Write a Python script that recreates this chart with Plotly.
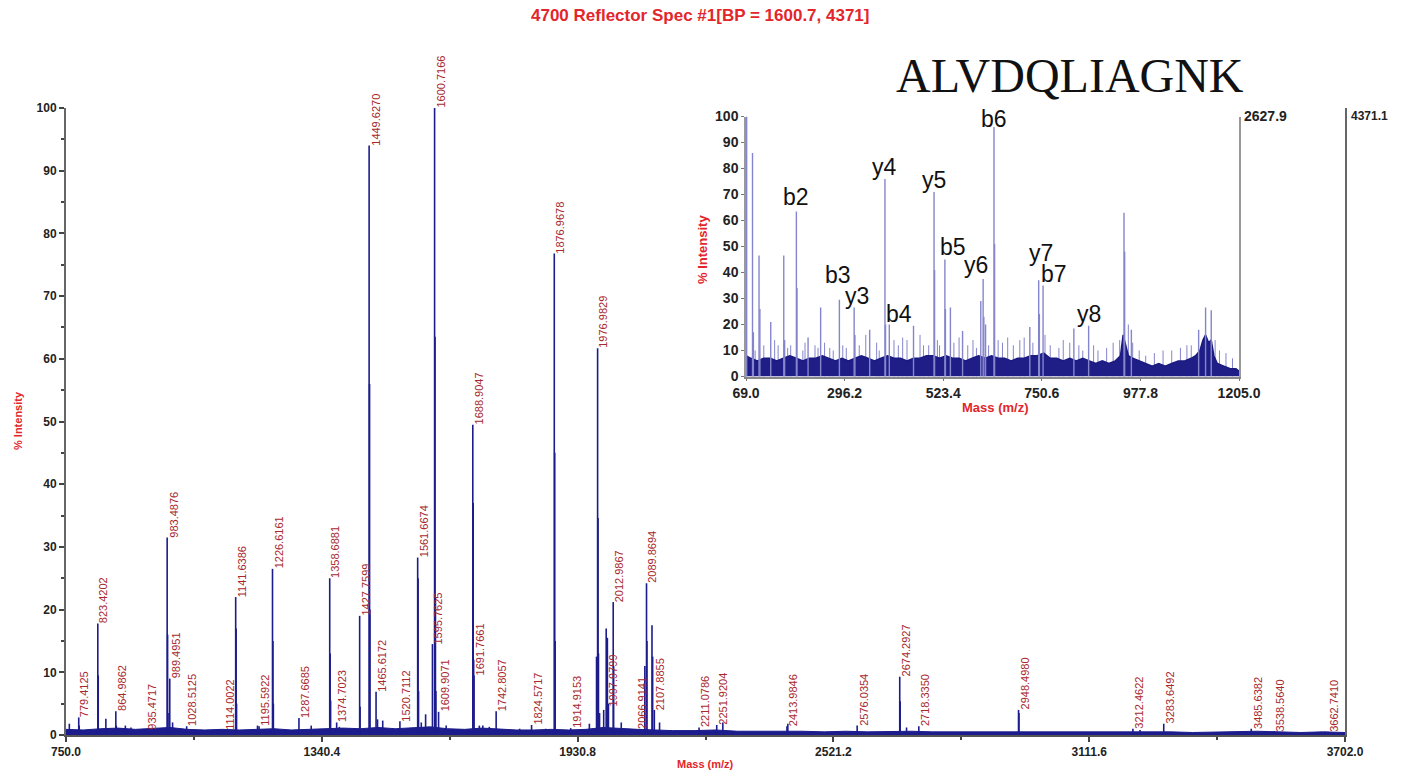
import plotly.graph_objects as go

W, H = 1411, 773

# ---------------- main spectrum data ----------------
label_mz = [779.4125, 823.4202, 864.9862, 935.4717, 983.4876, 989.4951, 1028.5125, 1114.0022,
            1141.6386, 1195.5922, 1226.6161, 1287.6685, 1358.6881, 1374.7023, 1427.7599, 1449.6270,
            1465.6172, 1520.7112, 1561.6674, 1595.7625, 1600.7166, 1609.9071, 1688.9047, 1691.7661,
            1742.8057, 1824.5717, 1876.9678, 1914.9153, 1976.9829, 1997.9799, 2012.9867, 2066.9141,
            2089.8694, 2107.8855, 2211.0786, 2251.9204, 2413.9846, 2576.0354, 2674.2927, 2718.3350,
            2948.4980, 3212.4622, 3283.6492, 3485.6382, 3538.5640, 3662.7410]
label_int = [2.8, 17.8, 3.8, 0.9, 31.5, 9.0, 1.4, 0.8,
             22.0, 1.4, 26.5, 2.7, 25.0, 2.0, 19.0, 94.0,
             6.9, 2.2, 28.3, 14.5, 100.0, 3.7, 49.5, 9.5,
             3.8, 1.6, 76.8, 1.1, 61.7, 4.5, 21.2, 0.9,
             24.2, 4.0, 1.2, 1.6, 1.4, 1.5, 9.3, 1.4,
             4.0, 1.0, 1.8, 1.0, 0.6, 0.5]

minor_mz = [757.7, 780.4, 824.42, 842.0, 865.99, 887.0, 900.0, 984.49, 985.49, 996.0,
            1142.64, 1143.64, 1192.0, 1227.62, 1228.62, 1316.0, 1359.69, 1360.69, 1381.0, 1404.0,
            1428.76, 1450.63, 1451.63, 1469.0, 1481.0, 1562.67, 1563.67, 1570.0, 1580.0, 1601.72,
            1602.72, 1603.72, 1627.5, 1689.9, 1690.9, 1704.0, 1712.0, 1727.0, 1797.0, 1857.0,
            1877.97, 1878.97, 1958.0, 1974.5, 1977.98, 1978.98, 1981.5, 1991.0, 1996.8, 1999.5,
            2002.0, 2013.99, 2031.6, 2086.0, 2090.87, 2102.5, 2104.0, 2120.0, 2266.0, 2416.0,
            2675.3, 2690.0, 2949.5, 3229.0, 3471.0, 3656.0]
minor_int = [1.8, 1.5, 9.5, 2.6, 1.5, 1.5, 1.2, 16.0, 3.5, 2.0,
             17.0, 5.0, 1.5, 15.0, 5.0, 1.5, 13.0, 5.5, 1.3, 1.0,
             4.5, 56.0, 20.0, 2.5, 2.3, 25.0, 7.0, 2.0, 3.3, 63.5,
             22.0, 7.0, 1.5, 37.0, 12.0, 1.5, 1.5, 1.3, 1.0, 1.0,
             45.0, 15.0, 1.8, 12.5, 34.6, 13.0, 3.5, 4.0, 17.0, 15.5,
             5.0, 11.0, 2.0, 11.0, 15.0, 17.5, 12.5, 2.0, 2.0, 1.8,
             5.4, 1.2, 3.5, 0.8, 0.6, 0.5]

base_mz = [750, 790, 830, 870, 910, 950, 990, 1030, 1070, 1110, 1150, 1190, 1230, 1270, 1310,
           1350, 1390, 1430, 1470, 1510, 1550, 1590, 1630, 1670, 1710, 1750, 1790, 1830, 1870,
           1910, 1950, 1990, 2030, 2070, 2110, 2150, 2200, 2250, 2300, 2350, 2400, 2450, 2500,
           2550, 2600, 2650, 2700, 2750, 2800, 2850, 2900, 2950, 3000, 3050, 3100, 3150, 3200,
           3250, 3300, 3350, 3400, 3450, 3500, 3550, 3600, 3650, 3702]
base_int = [0.9, 0.8, 1.0, 1.1, 0.9, 1.0, 1.2, 0.9, 0.8, 0.9, 0.8, 0.9, 1.0, 0.8, 0.9,
            1.0, 1.1, 1.0, 1.2, 1.0, 1.1, 1.3, 1.0, 0.9, 1.1, 0.9, 0.8, 0.8, 0.9,
            0.8, 0.9, 1.2, 1.0, 0.9, 0.8, 0.7, 0.7, 0.8, 0.6, 0.6, 0.7, 0.6, 0.5,
            0.6, 0.5, 0.6, 0.6, 0.5, 0.5, 0.5, 0.6, 0.6, 0.5, 0.5, 0.5, 0.6, 0.6,
            0.5, 0.5, 0.4, 0.5, 0.5, 0.6, 0.5, 0.4, 0.5, 0.4]

main_xticks = [750.0, 1340.4, 1930.8, 2521.2, 3111.6, 3702.0]
main_xminor = [1045.2, 1635.6, 2226.0, 2816.4, 3406.8]
main_yticks = [0, 10, 20, 30, 40, 50, 60, 70, 80, 90, 100]

# ---------------- inset (MS/MS) data ----------------
inset_mz = [70.5, 84.0, 86.0, 99.0, 101.0, 126.0, 156.0, 158.0, 185.1, 186.5,
            212.0, 241.0, 284.2, 318.2, 320.0, 354.0, 389.2, 390.5, 399.2, 455.0,
            502.3, 503.5, 527.3, 528.5, 540.0, 568.0, 610.0, 615.4, 617.0, 621.0,
            640.4, 641.8, 723.0, 743.4, 745.0, 753.5, 824.5, 858.5, 940.0, 941.5,
            957.0, 1112.0, 1128.0, 1141.0]
inset_int = [100, 86, 17, 46.5, 26, 21, 46.5, 14, 63.5, 34,
             15, 26.5, 29.5, 26.5, 16, 18, 76, 20, 20, 19.5,
             71, 41, 45, 26, 26.5, 17.5, 29, 37.5, 23, 20,
             96, 51, 19, 37, 24, 35, 18.5, 19.5, 63, 48,
             18, 18, 26.5, 25.5]

inset_minor_mz = [90, 110, 135, 143, 165, 172, 200, 205, 228, 235,
                  250, 262, 270, 292, 300, 330, 345, 370, 376, 410,
                  420, 430, 440, 470, 478, 490, 510, 515, 548, 560,
                  580, 592, 600, 628, 650, 660, 672, 685, 700, 710,
                  730, 758, 770, 790, 800, 815, 836, 845, 870, 880,
                  900, 915, 930, 950, 960, 975, 990, 1010, 1030, 1050,
                  1070, 1085, 1095, 1150, 1160, 1175, 1190]
inset_minor_int = [10, 12, 14, 12, 11, 12, 10, 13, 12, 11,
                   13, 11, 10, 12, 11, 12, 16, 13, 10, 14,
                   12, 15, 14, 16, 12, 12, 14, 12, 13, 15,
                   12, 14, 11, 12, 14, 13, 15, 12, 14, 15,
                   13, 16, 12, 11, 14, 13, 12, 10, 12, 10,
                   11, 13, 14, 20, 13, 10, 8, 9, 10, 10,
                   11, 12, 12, 14, 10, 9, 7]

inset_env_mz = [69, 80, 95, 110, 125, 140, 155, 170, 185, 200,
                215, 230, 245, 260, 275, 290, 305, 320, 335, 350,
                365, 380, 395, 410, 425, 440, 455, 470, 485, 500,
                515, 530, 545, 560, 575, 590, 605, 620, 635, 650,
                665, 680, 695, 710, 725, 740, 755, 770, 785, 800,
                815, 830, 845, 860, 875, 890, 905, 920, 932, 938,
                944, 950, 960, 975, 990, 1005, 1020, 1035, 1050, 1065,
                1080, 1095, 1105, 1115, 1122, 1128, 1135, 1141, 1147, 1155,
                1170, 1185, 1198, 1205]
inset_env_int = [8, 7, 6, 7, 7, 6, 7, 8, 7, 6,
                 7, 7, 8, 7, 6, 7, 6, 7, 8, 7,
                 6, 7, 8, 7, 7, 6, 7, 7, 8, 8,
                 7, 8, 7, 7, 6, 7, 8, 7, 8, 7,
                 7, 6, 7, 7, 8, 8, 9, 7, 7, 6,
                 7, 6, 7, 6, 5, 6, 5, 6, 8, 16,
                 12, 8, 7, 6, 5, 4, 5, 4, 5, 6,
                 6, 7, 8, 10, 14, 16, 13, 14, 8, 5,
                 4, 3, 3, 2]

frag_names = ["b2", "b3", "y3", "b4", "y4", "y5", "b5", "y6", "b6", "y7", "b7", "y8"]
frag_mz = [185.1, 284.2, 318.2, 399.2, 389.2, 502.3, 527.3, 615.4, 640.4, 743.4, 753.5, 858.5]
frag_int = [63.5, 29.5, 26.5, 20, 76, 71, 45, 37.5, 96, 37, 35, 19.5]

inset_xticks = [69.0, 296.2, 523.4, 750.6, 977.8, 1205.0]
inset_yticks = [0, 10, 20, 30, 40, 50, 60, 70, 80, 90, 100]

# label offsets (pixels) for fragment annotations: (xshift, yshift)
frag_offsets = [(0, 14), (-1, 25), (3, 12), (10, 11), (0, 12), (0, 12),
                (8, 13), (-7, 14), (0, 8), (2, 27), (11, 12), (0, 12)]


def sticks(mz, h):
    xs, ys = [], []
    for m, v in zip(mz, h):
        xs += [m, m, None]
        ys += [0, v, None]
    return xs, ys


NAVY = "#1c1c8c"
fig = go.Figure()

# main baseline noise
fig.add_trace(go.Scatter(x=base_mz, y=base_int, mode="lines", fill="tozeroy",
                         line=dict(color=NAVY, width=1), fillcolor=NAVY,
                         xaxis="x", yaxis="y", hoverinfo="skip"))
mx, my = sticks(minor_mz, minor_int)
fig.add_trace(go.Scatter(x=mx, y=my, mode="lines", line=dict(color=NAVY, width=1.6),
                         xaxis="x", yaxis="y", hoverinfo="skip"))
lx, ly = sticks(label_mz, label_int)
fig.add_trace(go.Scatter(x=lx, y=ly, mode="lines", line=dict(color=NAVY, width=1.6),
                         xaxis="x", yaxis="y", hoverinfo="skip"))

# inset
INS = "#8585cc"
ix, iy = sticks(inset_minor_mz, inset_minor_int)
fig.add_trace(go.Scatter(x=ix, y=iy, mode="lines", line=dict(color=INS, width=1),
                         xaxis="x2", yaxis="y2", hoverinfo="skip"))
fig.add_trace(go.Scatter(x=inset_env_mz, y=inset_env_int, mode="lines", fill="tozeroy",
                         line=dict(color="#1a1a80", width=1.5), fillcolor="#1e1e86",
                         xaxis="x2", yaxis="y2", hoverinfo="skip"))
px, py = sticks(inset_mz, inset_int)
fig.add_trace(go.Scatter(x=px, y=py, mode="lines", line=dict(color=INS, width=1.4),
                         xaxis="x2", yaxis="y2", hoverinfo="skip"))

tick_font_main = dict(family="Arial", size=12, color="#222222", weight="bold")
tick_font_inset = dict(family="Arial", size=14, color="#222222", weight="bold")

fig.update_layout(
    width=W, height=H, margin=dict(l=0, r=0, t=0, b=0, autoexpand=False),
    paper_bgcolor="white", plot_bgcolor="rgba(0,0,0,0)", showlegend=False,
    xaxis=dict(domain=[66 / W, 1345 / W], range=[750, 3702], anchor="y",
               tickmode="array", tickvals=main_xticks,
               ticktext=[f"{v:.1f}" for v in main_xticks],
               ticks="outside", ticklen=5, tickwidth=1.5, tickcolor="#444",
               showline=True, linecolor="#555", linewidth=2,
               showgrid=False, zeroline=False, tickfont=tick_font_main,
               minor=dict(tickmode="array", tickvals=main_xminor, ticks="outside",
                          ticklen=3, tickwidth=1.5, tickcolor="#444")),
    yaxis=dict(domain=[1 - 735 / H, 1 - 108 / H], range=[0, 100], anchor="x",
               tickmode="array", tickvals=main_yticks,
               ticks="outside", ticklen=5, tickwidth=1.5, tickcolor="#444",
               showline=True, mirror=True, linecolor="#666", linewidth=2,
               showgrid=False, zeroline=False, tickfont=tick_font_main,
               minor=dict(dtick=5, tick0=0, ticks="outside", ticklen=3,
                          tickwidth=1.5, tickcolor="#444")),
    xaxis2=dict(domain=[746 / W, 1239 / W], range=[69, 1205], anchor="y2",
                tickmode="array", tickvals=inset_xticks,
                ticktext=[f"{v:.1f}" for v in inset_xticks],
                ticks="outside", ticklen=3, tickcolor="#777",
                showline=True, linecolor="#888", linewidth=1.5,
                showgrid=False, zeroline=False, tickfont=tick_font_inset),
    yaxis2=dict(domain=[1 - 376.5 / H, 1 - 116.5 / H], range=[0, 100], anchor="x2",
                tickmode="array", tickvals=inset_yticks,
                ticks="outside", ticklen=3, tickcolor="#777",
                showline=True, mirror=True, linecolor="#999", linewidth=1.5,
                showgrid=False, zeroline=False, tickfont=tick_font_inset),
)

ann = []
LABEL_FONT = dict(family="Arial", size=11, color="#a8282c")
for m, v in zip(label_mz, label_int):
    ann.append(dict(x=m, y=v, xref="x", yref="y", text=f"{m:.4f}", textangle=-90,
                    xanchor="left", yanchor="bottom", showarrow=False,
                    font=LABEL_FONT, borderpad=0, borderwidth=0))

for (n, m, v), (dx, dy) in zip(zip(frag_names, frag_mz, frag_int), frag_offsets):
    ann.append(dict(x=m, y=v, xref="x2", yref="y2", text=n, showarrow=False,
                    xanchor="center", yanchor="middle", xshift=dx, yshift=dy,
                    font=dict(family="Arial", size=23, color="#111111")))

RED = "#e3262b"
ann += [
    dict(x=700 / W, y=1 - 15 / H, xref="paper", yref="paper", showarrow=False,
         text="4700 Reflector Spec #1[BP = 1600.7, 4371]",
         font=dict(family="Arial", size=17, color=RED, weight="bold"),
         xanchor="center", yanchor="middle"),
    dict(x=18 / W, y=1 - 421 / H, xref="paper", yref="paper", showarrow=False,
         text="% Intensity", textangle=-90,
         font=dict(family="Arial", size=11, color=RED, weight="bold"),
         xanchor="center", yanchor="middle"),
    dict(x=705 / W, y=1 - 764 / H, xref="paper", yref="paper", showarrow=False,
         text="Mass (m/z)",
         font=dict(family="Arial", size=11, color=RED, weight="bold"),
         xanchor="center", yanchor="middle"),
    dict(x=1349 / W, y=1 - 116 / H, xref="paper", yref="paper", showarrow=False,
         text="4371.1", font=dict(family="Arial", size=12, color="#222", weight="bold"),
         xanchor="left", yanchor="middle"),
    dict(x=1242 / W, y=1 - 116 / H, xref="paper", yref="paper", showarrow=False,
         text="2627.9", font=dict(family="Arial", size=14, color="#222", weight="bold"),
         xanchor="left", yanchor="middle"),
    dict(x=703 / W, y=1 - 250 / H, xref="paper", yref="paper", showarrow=False,
         text="% Intensity", textangle=-90,
         font=dict(family="Arial", size=13, color=RED, weight="bold"),
         xanchor="center", yanchor="middle"),
    dict(x=995 / W, y=1 - 407 / H, xref="paper", yref="paper", showarrow=False,
         text="Mass (m/z)",
         font=dict(family="Arial", size=13, color=RED, weight="bold"),
         xanchor="center", yanchor="middle"),
    dict(x=1070 / W, y=1 - 76 / H, xref="paper", yref="paper", showarrow=False,
         text="ALVDQLIAGNK",
         font=dict(family="Liberation Serif, Times New Roman, serif", size=48, color="#111"),
         xanchor="center", yanchor="middle"),
]
fig.update_layout(annotations=ann)

fig.write_html("out.html")
